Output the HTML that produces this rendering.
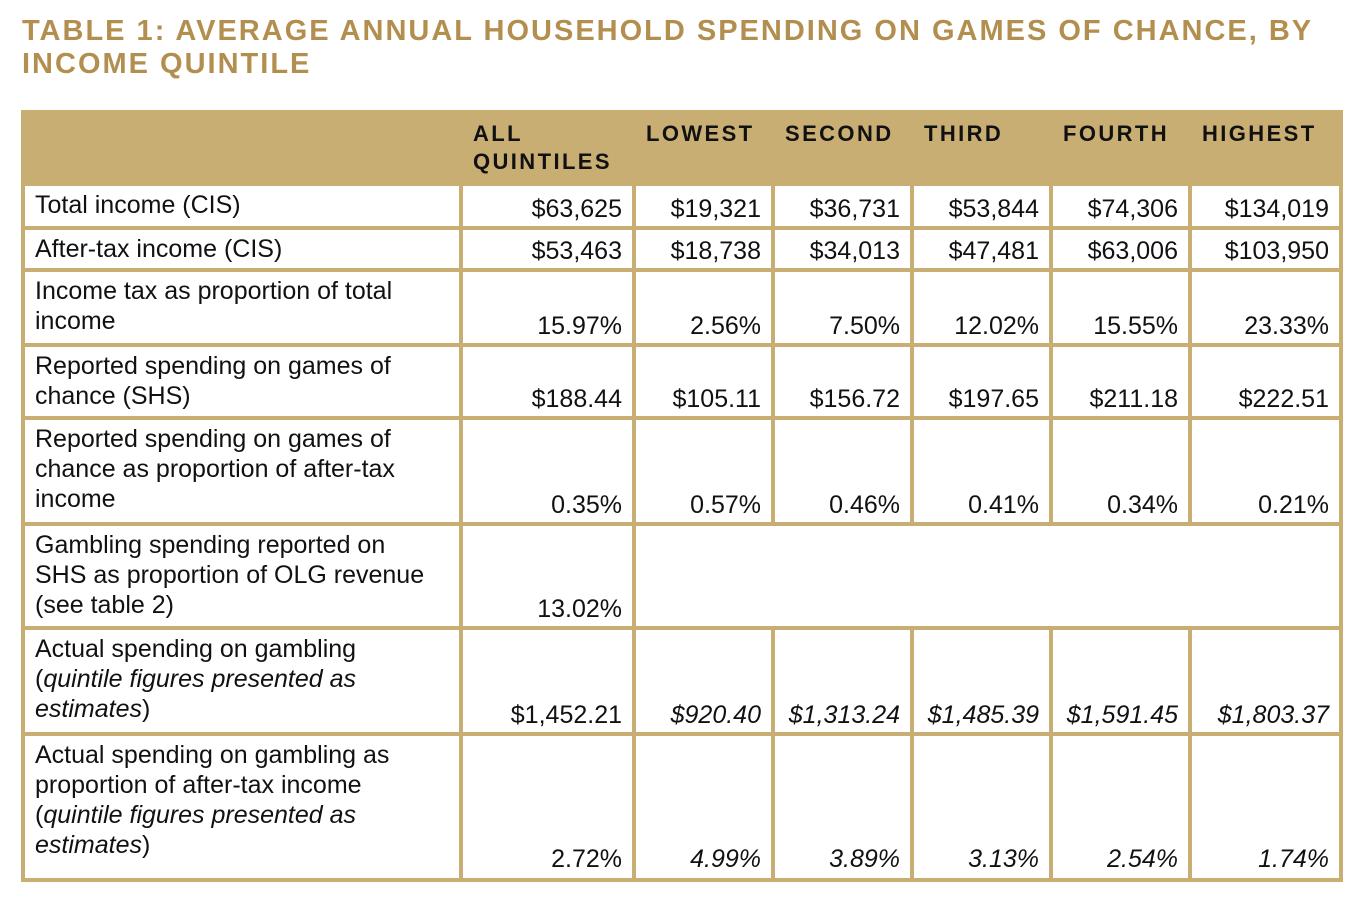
<!DOCTYPE html>
<html><head><meta charset="utf-8"><style>
body{margin:0;background:#fff;width:1366px;height:898px;overflow:hidden;font-family:"Liberation Sans",sans-serif;}
h1{position:absolute;left:22px;top:15px;margin:0;font-size:29px;line-height:33px;color:#b38f4f;font-weight:bold;letter-spacing:2.0px;white-space:nowrap;}
.t{position:absolute;left:21px;top:110px;width:1322px;background:#c9ae74;display:grid;
grid-template-columns:434px 169px 135px 135px 135px 135px 147px;
grid-template-rows:72px 40px 38px 71px 69px 102px 100px 102px 142px;
column-gap:4px;row-gap:4px;padding:0 4px 4px 4px;box-sizing:border-box;}
.t>div{background:#fff;font-size:25px;color:#111;line-height:30px;display:flex;align-items:flex-end;justify-content:flex-end;padding:0 10px 2px 10px;box-sizing:border-box;overflow:hidden;white-space:nowrap;}
.t>div.l{justify-content:flex-start;align-items:flex-start;padding-top:4px;display:block;}
.t>div.h{background:transparent;font-weight:bold;font-size:22px;letter-spacing:2.4px;line-height:28px;align-items:flex-start;justify-content:flex-start;padding:10px 0 0 10px;color:#111;display:block;}
.t>div.s{padding-bottom:4px}
i{font-style:italic}
</style></head><body>
<h1>TABLE 1: AVERAGE ANNUAL HOUSEHOLD SPENDING ON GAMES OF CHANCE, BY<br>INCOME QUINTILE</h1>
<div class="t">
<div class="h"></div><div class="h">ALL<br>QUINTILES</div><div class="h">LOWEST</div><div class="h">SECOND</div><div class="h">THIRD</div><div class="h">FOURTH</div><div class="h">HIGHEST</div>
<div class="l">Total income (CIS)</div><div>$63,625</div><div>$19,321</div><div>$36,731</div><div>$53,844</div><div>$74,306</div><div>$134,019</div>
<div class="l">After-tax income (CIS)</div><div>$53,463</div><div>$18,738</div><div>$34,013</div><div>$47,481</div><div>$63,006</div><div>$103,950</div>
<div class="l">Income tax as proportion of total<br>income</div><div>15.97%</div><div>2.56%</div><div>7.50%</div><div>12.02%</div><div>15.55%</div><div>23.33%</div>
<div class="l">Reported spending on games of<br>chance (SHS)</div><div>$188.44</div><div>$105.11</div><div>$156.72</div><div>$197.65</div><div>$211.18</div><div>$222.51</div>
<div class="l">Reported spending on games of<br>chance as proportion of after-tax<br>income</div><div>0.35%</div><div>0.57%</div><div>0.46%</div><div>0.41%</div><div>0.34%</div><div>0.21%</div>
<div class="l">Gambling spending reported on<br>SHS as proportion of OLG revenue<br>(see table 2)</div><div>13.02%</div><div style="grid-column:3 / 8"></div>
<div class="l">Actual spending on gambling<br>(<i>quintile figures presented as</i><br><i>estimates</i>)</div><div>$1,452.21</div><div><i>$920.40</i></div><div><i>$1,313.24</i></div><div><i>$1,485.39</i></div><div><i>$1,591.45</i></div><div><i>$1,803.37</i></div>
<div class="l">Actual spending on gambling as<br>proportion of after-tax income<br>(<i>quintile figures presented as</i><br><i>estimates</i>)</div><div class="s">2.72%</div><div class="s"><i>4.99%</i></div><div class="s"><i>3.89%</i></div><div class="s"><i>3.13%</i></div><div class="s"><i>2.54%</i></div><div class="s"><i>1.74%</i></div>
</div>
</body></html>
